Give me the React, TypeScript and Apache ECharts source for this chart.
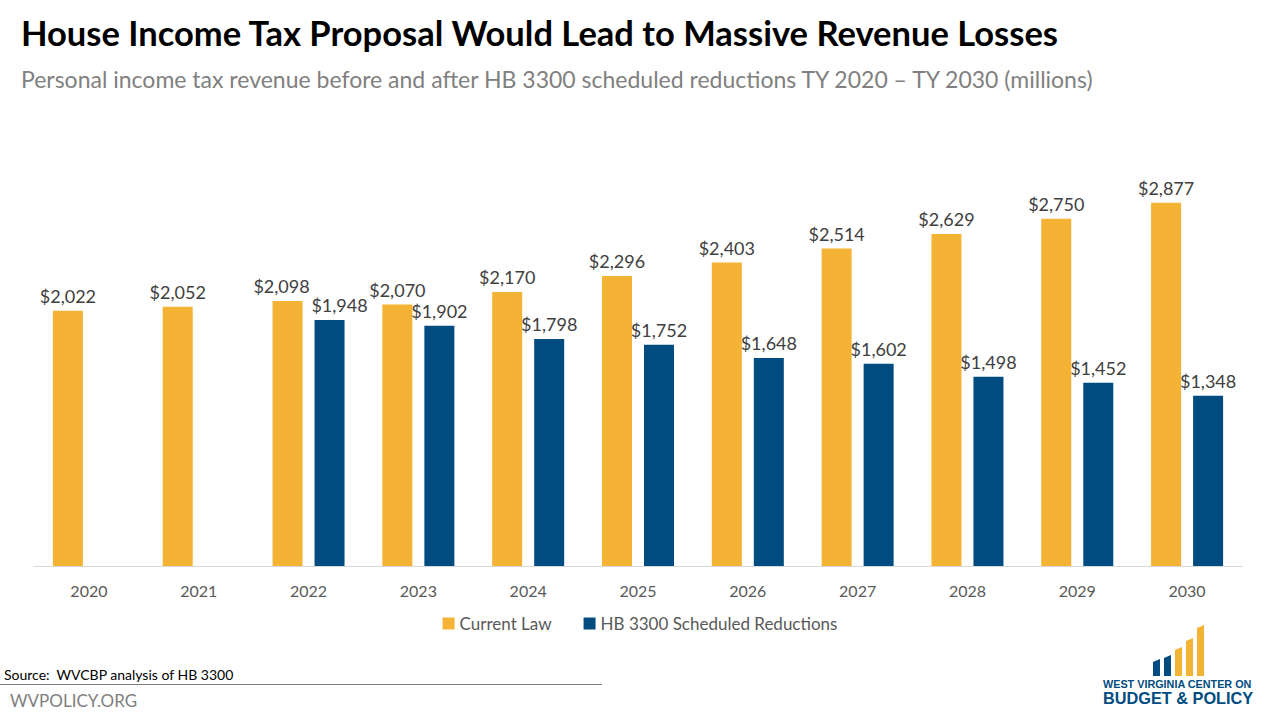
import React, { useEffect, useRef } from "react";
import * as echarts from "echarts";

const years = ["2020", "2021", "2022", "2023", "2024", "2025", "2026", "2027", "2028", "2029", "2030"];
const currentLaw = [2022, 2052, 2098, 2070, 2170, 2296, 2403, 2514, 2629, 2750, 2877];
const hb3300 = [null, null, 1948, 1902, 1798, 1752, 1648, 1602, 1498, 1452, 1348];
const seriesNames = ["Current Law", "HB 3300 Scheduled Reductions"];

const ORANGE = "#F5B335";
const BLUE = "#004C80";
const FONT = "Lato, 'Open Sans', sans-serif";

const fmt = (v: number) => "$" + v.toLocaleString("en-US");

export default function App() {
  const ref = useRef<HTMLDivElement>(null);
  useEffect(() => {
    if (!ref.current) return;
    const chart = echarts.init(ref.current, null, { renderer: "svg" });
    const logoBars = [
      { x: 1153, top: 659, c: BLUE },
      { x: 1164, top: 655, c: BLUE },
      { x: 1175, top: 647, c: ORANGE },
      { x: 1186, top: 638, c: ORANGE },
      { x: 1197, top: 625, c: ORANGE },
    ];
    chart.setOption({
      animation: false,
      backgroundColor: "#ffffff",
      textStyle: { fontFamily: FONT },
      title: [
        {
          text: "House Income Tax Proposal Would Lead to Massive Revenue Losses",
          left: 16,
          top: 10,
          textStyle: { fontFamily: FONT, fontSize: 34.5, fontWeight: "bold", color: "#000000" },
        },
        {
          text: "Personal income tax revenue before and after HB 3300 scheduled reductions TY 2020 – TY 2030 (millions)",
          left: 16,
          top: 62,
          textStyle: { fontFamily: FONT, fontSize: 23, fontWeight: "normal", color: "#808080" },
        },
      ],
      legend: {
        bottom: 83,
        left: "center",
        itemWidth: 12,
        itemHeight: 12,
        itemGap: 32,
        icon: "rect",
        textStyle: { fontFamily: FONT, fontSize: 17, color: "#595959" },
        data: seriesNames,
      },
      grid: { left: 34, right: 38, top: 124, bottom: 154 },
      xAxis: {
        type: "category",
        data: years,
        axisTick: { show: false },
        axisLine: { lineStyle: { color: "#D9D9D9", width: 1 } },
        axisLabel: { fontFamily: FONT, fontSize: 16, color: "#595959", margin: 16 },
      },
      yAxis: {
        type: "value",
        min: 0,
        max: 3500,
        show: false,
        splitLine: { show: false },
      },
      series: [
        {
          name: seriesNames[0],
          type: "bar",
          barWidth: 30,
          barGap: "40%",
          itemStyle: { color: ORANGE },
          data: currentLaw.map((v, i) => ({
            value: v,
            label: i === 2 ? { offset: [-6, 0] } : undefined,
          })),
          label: {
            show: true,
            position: "top",
            distance: 6,
            formatter: (p: any) => fmt(p.value),
            fontFamily: FONT,
            fontSize: 18,
            color: "#404040",
          },
        },
        {
          name: seriesNames[1],
          type: "bar",
          barWidth: 30,
          itemStyle: { color: BLUE },
          data: hb3300.map((v, i) => ({
            value: v,
            label: i === 2 ? { offset: [10, 0] } : undefined,
          })),
          label: {
            show: true,
            position: "top",
            distance: 6,
            formatter: (p: any) => (p.value == null ? "" : fmt(p.value)),
            fontFamily: FONT,
            fontSize: 18,
            color: "#404040",
          },
        },
      ],
      graphic: [
        {
          type: "text",
          left: 4,
          top: 667,
          style: { text: "Source:  WVCBP analysis of HB 3300", fontFamily: FONT, fontSize: 14, fill: "#000000" },
        },
        {
          type: "line",
          shape: { x1: 0, y1: 684.5, x2: 602, y2: 684.5 },
          style: { stroke: "#7F7F7F", lineWidth: 1 },
        },
        {
          type: "text",
          left: 10,
          top: 692,
          style: { text: "WVPOLICY.ORG", fontFamily: FONT, fontSize: 17, fill: "#808080" },
        },
        ...logoBars.map((b) => ({
          type: "polygon",
          shape: {
            points: [
              [b.x, b.top + 3],
              [b.x + 7, b.top],
              [b.x + 7, 676],
              [b.x, 676],
            ],
          },
          style: { fill: b.c },
        })),
        {
          type: "text",
          left: 1103,
          top: 678,
          style: {
            text: "WEST VIRGINIA CENTER ON",
            fontFamily: "'Liberation Sans', Arial, sans-serif",
            fontSize: 10.8,
            fontWeight: "bold",
            fill: BLUE,
          },
        },
        {
          type: "text",
          left: 1103,
          top: 690,
          style: {
            text: "BUDGET & POLICY",
            fontFamily: "'Liberation Sans', Arial, sans-serif",
            fontSize: 16.3,
            fontWeight: "bold",
            fill: BLUE,
          },
        },
      ],
    });
    return () => chart.dispose();
  }, []);
  return (
    <div
      ref={ref}
      style={{ position: "fixed", left: 0, top: 0, width: 1280, height: 720 }}
    />
  );
}
